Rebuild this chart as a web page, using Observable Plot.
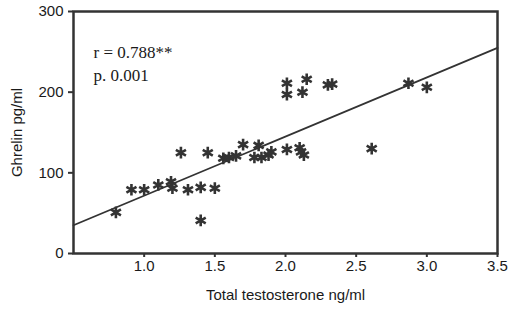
<!DOCTYPE html>
<html>
<head>
<meta charset="utf-8">
<script src="https://cdn.jsdelivr.net/npm/d3@7"></script>
<script src="https://cdn.jsdelivr.net/npm/@observablehq/plot@0.6"></script>
<style>
  html, body { margin: 0; padding: 0; background: #fff; }
  #chart svg { display: block; }
</style>
</head>
<body>
<div id="chart"></div>
<script>
// Total testosterone (ng/ml)
const testosterone = [0.80, 0.91, 1.00, 1.10, 1.19, 1.20, 1.31, 1.40, 1.50, 1.40,
  1.26, 1.45, 1.56, 1.60, 1.65, 1.70, 1.78, 1.81, 1.83, 1.88, 1.90, 2.01, 2.10, 2.13,
  2.01, 2.01, 2.15, 2.12, 2.30, 2.33, 2.87, 3.00, 2.61, 2.11];
// Ghrelin (pg/ml)
const ghrelin = [51, 79, 79, 85, 89, 81, 79, 82, 81, 41,
  125, 125, 118, 119, 121, 135, 119, 134, 119, 122, 126, 129, 131, 122,
  211, 197, 216, 200, 209, 210, 211, 206, 130, 126];
// fitted line (ends at the axis limits)
const fitX = [0.5, 3.5];
const fitY = [35, 255];
const xTicks = [1.0, 1.5, 2.0, 2.5, 3.0, 3.5];
const yTicks = [0, 100, 200, 300];
const statsText = ["r = 0.788**", "p. 0.001"];

const points = testosterone.map((x, i) => ({x, y: ghrelin[i]}));
const fit = fitX.map((x, i) => ({x, y: fitY[i]}));

const chart = Plot.plot({
  width: 514,
  height: 309,
  marginLeft: 73,
  marginRight: 17,
  marginTop: 11,
  marginBottom: 56,
  style: {fontFamily: "'Liberation Sans', Arial, sans-serif", fontSize: "15px", color: "#1a1a1a", background: "#fff"},
  x: {domain: [0.5, 3.5]},
  y: {domain: [0, 300]},
  marks: [
    Plot.axisX({ticks: xTicks, tickFormat: d3.format(".1f"), tickSize: 4, tickPadding: 3,
      fontSize: 15, stroke: "#333", strokeWidth: 2,
      label: "Total testosterone ng/ml", labelAnchor: "center", labelArrow: "none", labelOffset: 46}),
    Plot.axisY({ticks: yTicks, tickSize: 5, tickPadding: 5, fontSize: 15, stroke: "#333", strokeWidth: 2,
      label: "Ghrelin pg/ml", labelAnchor: "center", labelArrow: "none", labelOffset: 62}),
    Plot.frame({stroke: "#333", strokeWidth: 2.5}),
    Plot.line(fit, {x: "x", y: "y", stroke: "#333", strokeWidth: 1.8}),
    Plot.dot(points, {x: "x", y: "y", symbol: "asterisk", r: 5.5, stroke: "#333", strokeWidth: 2.6}),
    Plot.text([statsText.join("\n")], {
      text: d => d, frameAnchor: "top-left", dx: 20, dy: 30, lineAnchor: "top",
      textAnchor: "start", lineHeight: 1.35, fontSize: 17,
      fontFamily: "'Liberation Serif', 'Times New Roman', serif", fill: "#1a1a1a"
    })
  ]
});
document.getElementById("chart").appendChild(chart);
</script>
</body>
</html>
